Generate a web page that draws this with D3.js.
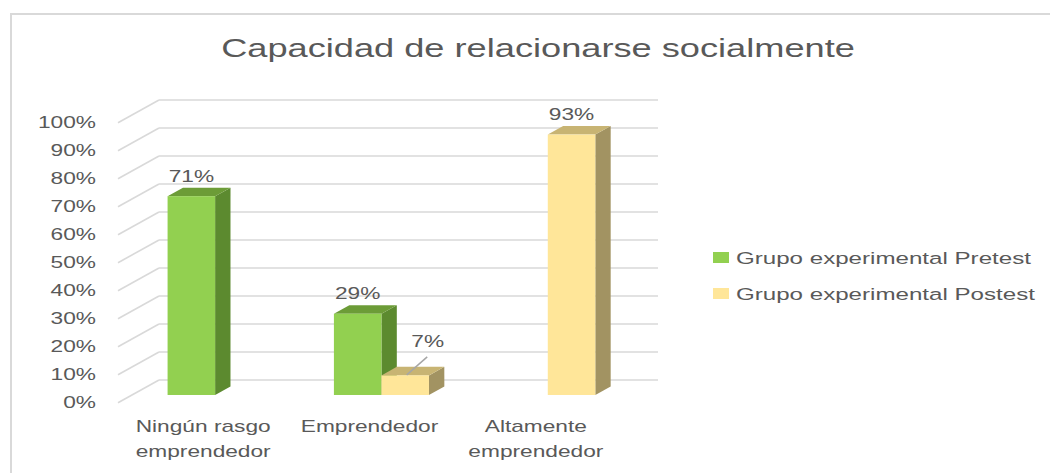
<!DOCTYPE html>
<html>
<head>
<meta charset="utf-8">
<script src="https://cdn.jsdelivr.net/npm/d3@7"></script>
<style>
  body { margin: 0; background: #fff; }
  text { font-family: "Liberation Sans", Arial, sans-serif; fill: #595959; }
</style>
</head>
<body>
<div id="viz-container"></div>
<script>
// chart data
let title = "Capacidad de relacionarse socialmente";
let categories = [["Ningún rasgo", "emprendedor"], ["Emprendedor"], ["Altamente", "emprendedor"]];
let seriesNames = ["Grupo experimental Pretest", "Grupo experimental Postest"];
let pretest = [71, 29, null];
let postest = [null, 7, 93];
let ticks = [0, 10, 20, 30, 40, 50, 60, 70, 80, 90, 100];

// the picture is stretched sideways, so text gets stretched too
let sx = 1.42;

let colors = [
  { front: "#92D050", side: "#5C8A2F", top: "#6C9C37" },
  { front: "#FFE699", side: "#A29362", top: "#C8B473" }
];

let viz = d3.select("#viz-container")
  .append("svg")
    .attr("width", 1050)
    .attr("height", 473);

// outer frame
viz.append("rect")
  .attr("x", 11).attr("y", 14)
  .attr("width", 1100).attr("height", 500)
  .attr("fill", "none")
  .attr("stroke", "#d9d9d9")
  .attr("stroke-width", 2);

// title
viz.append("text")
  .attr("transform", "translate(538,57) scale(" + sx + ",1)")
  .attr("text-anchor", "middle")
  .style("font-size", "25.5px")
  .text(title);

// 3d box: back wall spans x 159..658, depth offset to front is (-41, +22.7)
let backLeft = 159, backRight = 658;
let depthX = 41, depthY = 22.7;
let y = d3.scaleLinear().domain([0, 100]).range([380, 100]);

// x along the front plane
let x = d3.scaleBand()
  .domain(d3.range(categories.length))
  .range([backLeft - depthX, backRight - depthX]);
let xSub = d3.scaleBand()
  .domain([0, 1])
  .range([0, x.bandwidth()])
  .paddingInner(0)
  .paddingOuter(0.75);

// project a point: px on the front plane, value v, depth z (0 front, 1 back)
function P(px, v, z) {
  return [px + z * depthX, y(v) + (1 - z) * depthY];
}

// gridlines: back wall + left wall diagonal
let grid = viz.append("g");
ticks.forEach(function(t) {
  grid.append("line")
    .attr("x1", backLeft).attr("x2", backRight)
    .attr("y1", y(t)).attr("y2", y(t))
    .attr("stroke", "#d9d9d9").attr("stroke-width", 1.6);
  grid.append("line")
    .attr("x1", backLeft - depthX).attr("y1", y(t) + depthY)
    .attr("x2", backLeft).attr("y2", y(t))
    .attr("stroke", "#d9d9d9").attr("stroke-width", 1.6);
});

// y tick labels
viz.append("g").selectAll("text").data(ticks).enter().append("text")
  .attr("transform", function(d) { return "translate(96," + (y(d) + depthY) + ") scale(" + sx + ",1)"; })
  .attr("text-anchor", "end")
  .attr("dy", "0.36em")
  .style("font-size", "16px")
  .text(function(d) { return d + "%"; });

// bars
let zf = 0.34, zb = 0.715;
let bars = [];
categories.forEach(function(c, i) {
  [pretest, postest].forEach(function(arr, s) {
    if (arr[i] != null) bars.push({ cat: i, s: s, v: arr[i] });
  });
});

let barG = viz.append("g");
bars.forEach(function(b) {
  let x0 = x(b.cat) + xSub(b.s);
  let x1 = x0 + xSub.bandwidth();
  let col = colors[b.s];
  let pts = function(list) { return list.map(function(p) { return P(p[0], p[1], p[2]).join(","); }).join(" "); };
  // side
  barG.append("polygon")
    .attr("points", pts([[x1, 0, zf], [x1, 0, zb], [x1, b.v, zb], [x1, b.v, zf]]))
    .attr("fill", col.side);
  // top
  barG.append("polygon")
    .attr("points", pts([[x0, b.v, zf], [x1, b.v, zf], [x1, b.v, zb], [x0, b.v, zb]]))
    .attr("fill", col.top);
  // front
  let f0 = P(x0, b.v, zf), f1 = P(x1, 0, zf);
  barG.append("rect")
    .attr("x", f0[0]).attr("y", f0[1])
    .attr("width", f1[0] - f0[0]).attr("height", f1[1] - f0[1])
    .attr("fill", col.front);

  // data label
  let cx = (f0[0] + f1[0]) / 2;
  let lx = cx, ly = f0[1] - 14.5;
  if (b.v < 10) {
    lx = cx + 22.5;
    ly = f0[1] - 28.7;
    barG.append("line")
      .attr("x1", cx + 1.5).attr("y1", f0[1] - 0.5)
      .attr("x2", cx + 22).attr("y2", f0[1] - 18.5)
      .attr("stroke", "#a6a6a6").attr("stroke-width", 1.5);
  }
  barG.append("text")
    .attr("transform", "translate(" + lx + "," + ly + ") scale(" + sx + ",1)")
    .attr("text-anchor", "middle")
    .style("font-size", "16px")
    .text(b.v + "%");
});

// category labels
categories.forEach(function(lines, i) {
  let cx = x(i) + x.bandwidth() / 2 + 2;
  lines.forEach(function(line, k) {
    viz.append("text")
      .attr("transform", "translate(" + cx + "," + (432 + k * 24.5) + ") scale(" + sx + ",1)")
      .attr("text-anchor", "middle")
      .style("font-size", "16px")
      .text(line);
  });
});

// legend
let legend = viz.append("g");
seriesNames.forEach(function(name, i) {
  let ly = 252 + i * 36;
  legend.append("rect")
    .attr("x", 713).attr("y", ly)
    .attr("width", 16).attr("height", 11)
    .attr("fill", colors[i].front);
  legend.append("text")
    .attr("transform", "translate(736," + (ly + 11.5) + ") scale(" + sx + ",1)")
    .style("font-size", "17px")
    .text(name);
});
</script>
</body>
</html>
